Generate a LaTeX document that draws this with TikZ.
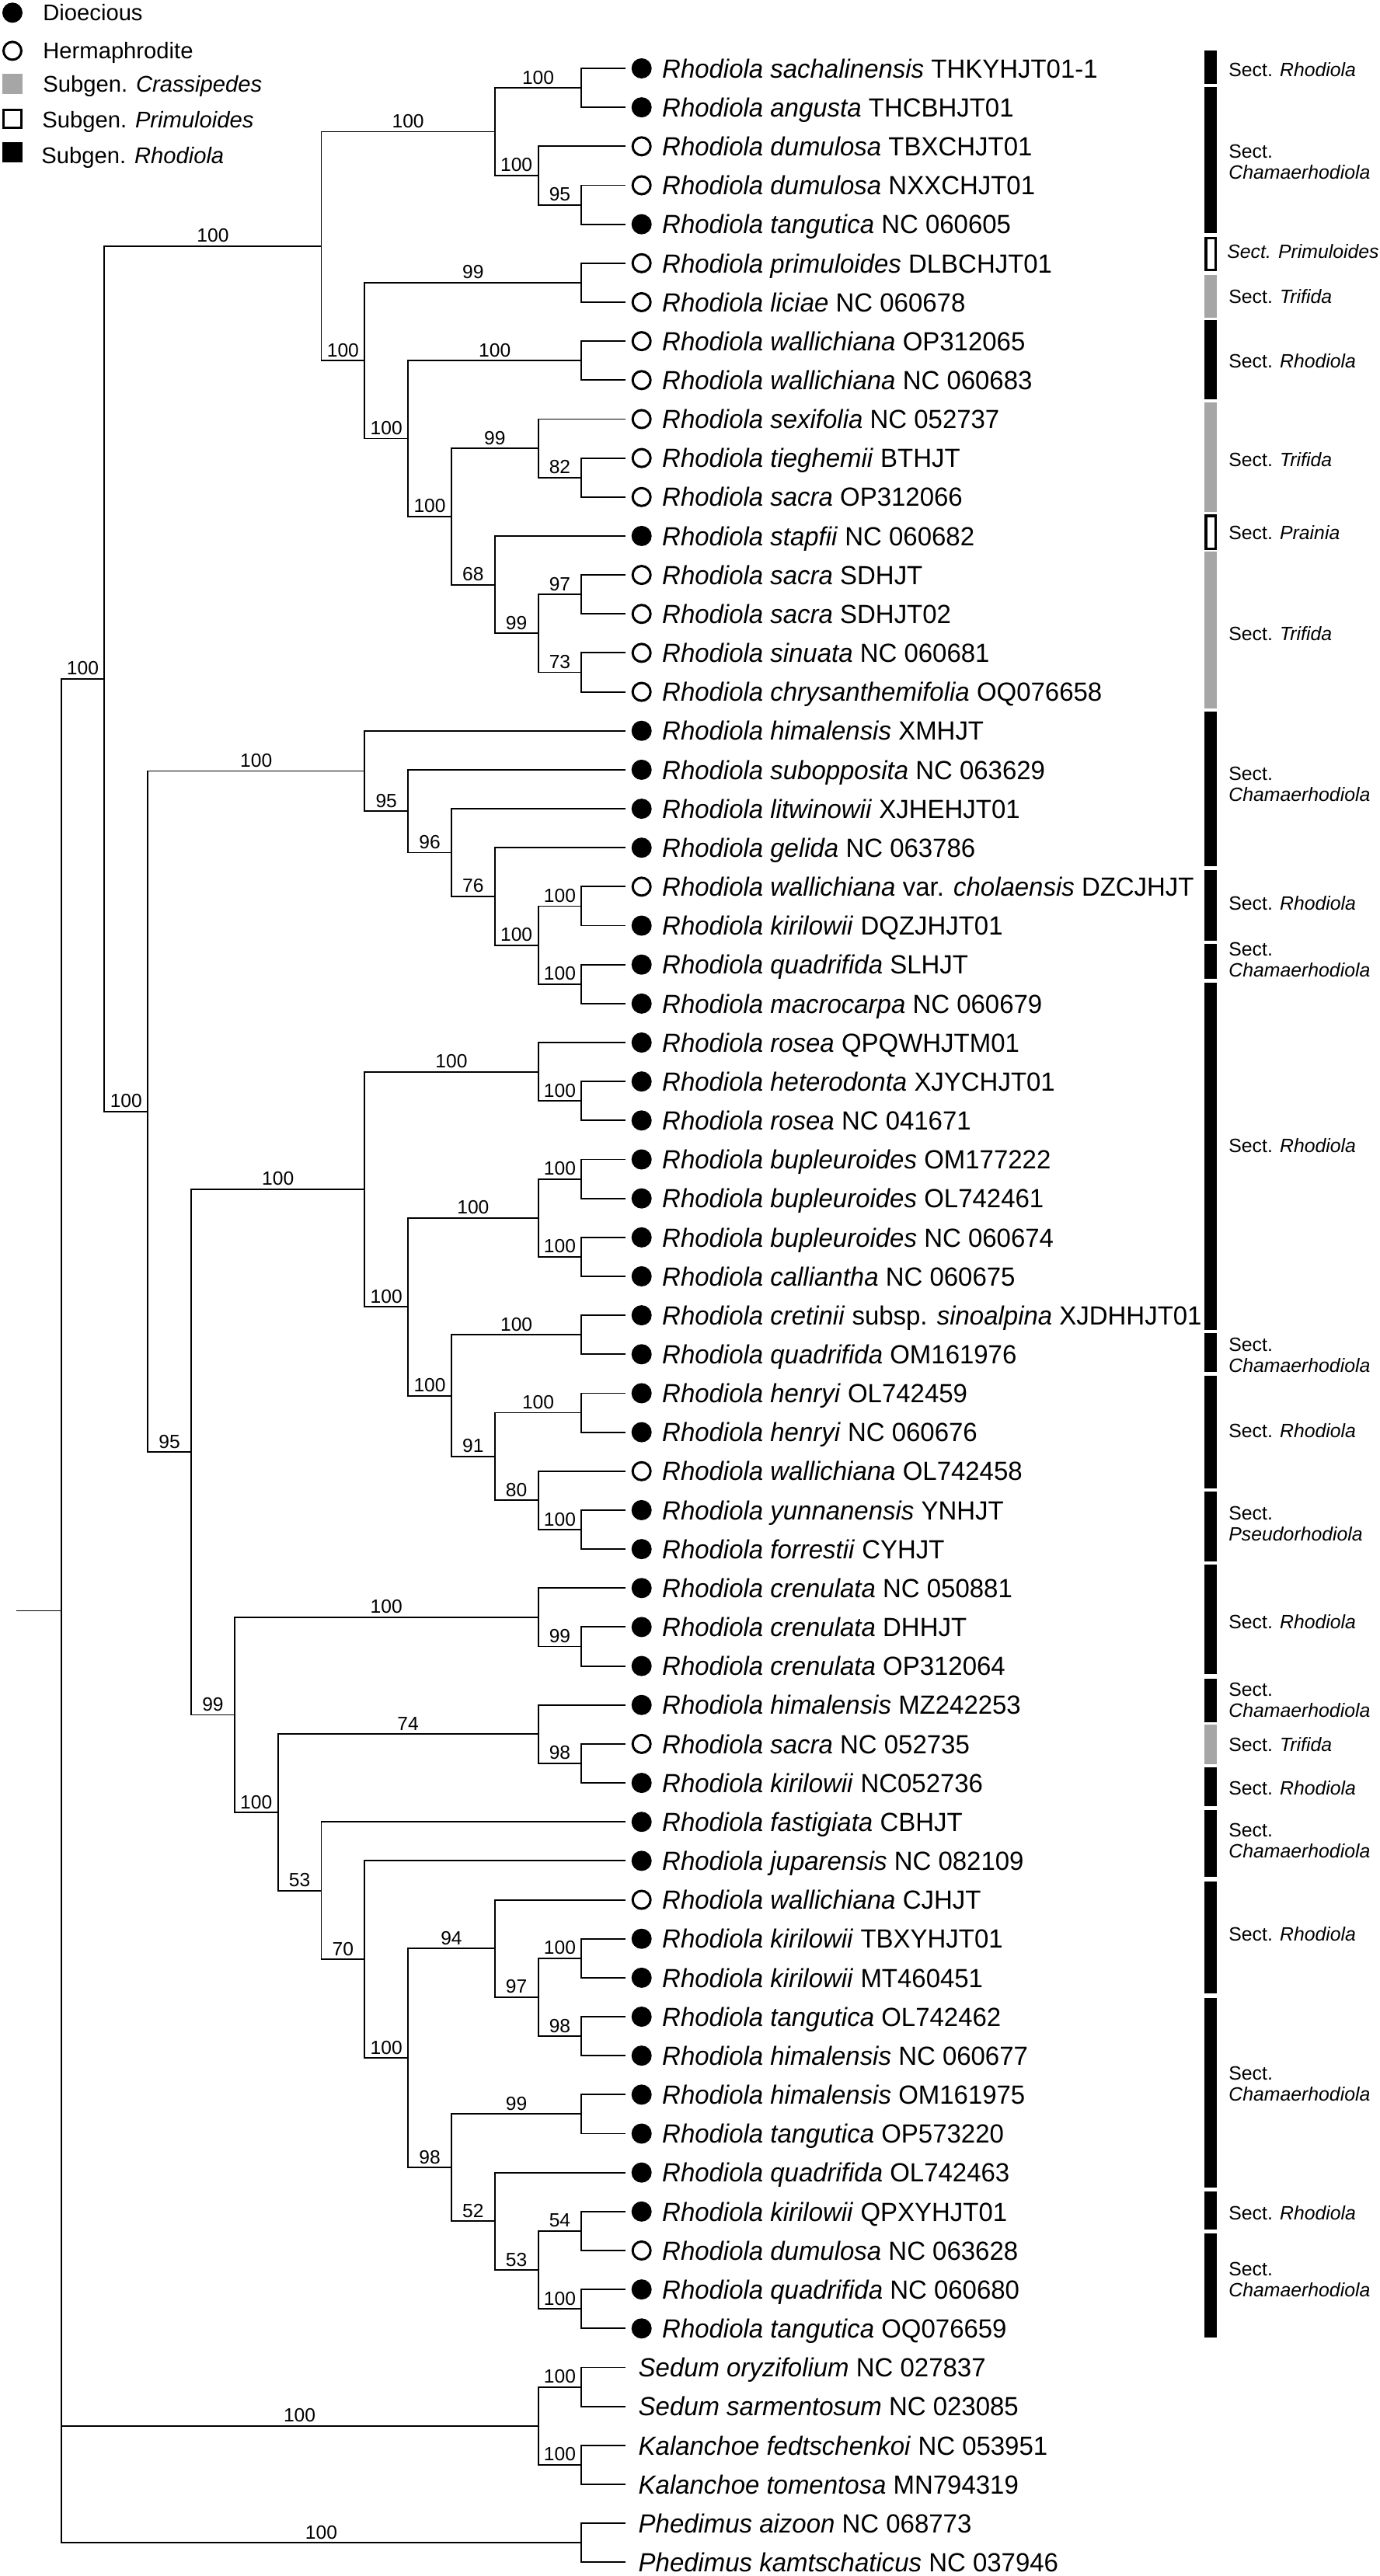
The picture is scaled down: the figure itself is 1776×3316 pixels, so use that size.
\documentclass[tikz,border=0pt]{standalone}
\usepackage{fontspec}
\setmainfont{Liberation Sans}
\newfontfamily\leaffont[FakeStretch=0.975]{Liberation Sans}
\usetikzlibrary{calc}
\definecolor{sgray}{RGB}{166,166,166}
\newcommand\mkclade[4]{%
  \coordinate (#1m) at ($(#3)!0.5!(#4)$);
  \coordinate (#1) at (X#2 |- #1m);
  \draw[br] (#1 |- #3) -- (#1 |- #4);
}
\newcommand\sbr[3]{%
  \coordinate (#2s) at (#1 |- #2);
  \draw[br] (#2s) -- (#2);
  \node[sup] (#2lab) at ($(#2s)!0.5!(#2)$) {#3};
}
\newcommand\tbr[2]{\draw[br] (#1 |- #2) -- (#2);}
\begin{document}
\begin{tikzpicture}[x=0.5pt,y=-0.5pt,
  br/.style={line width=0.95pt, line cap=rect},
  sup/.style={anchor=base, yshift=2.5pt, inner sep=0, font=\fontsize{12.3pt}{15pt}\selectfont},
  leaftext/.style={anchor=base west, inner sep=0, font=\leaffont\fontsize{16.9pt}{20pt}\selectfont},
  dio/.style={circle, fill=black, inner sep=0, minimum size=13pt},
  her/.style={circle, draw=black, line width=1.5pt, fill=white, inner sep=0, minimum size=11.5pt},
  seclab/.style={anchor=base west, inner sep=0, font=\fontsize{12.4pt}{15pt}\selectfont},
  legtext/.style={anchor=base west, inner sep=0, font=\fontsize{14.6pt}{17pt}\selectfont},
  bk/.style={fill=black},
  gy/.style={fill=sgray},
  wh/.style={draw=black, fill=white, line width=1.75pt},
]
\useasboundingbox (0,0) rectangle (1776,3316);
\fill[white] (0,0) rectangle (1776,3316);

% level x positions
\foreach \k in {1,...,14} {
  \pgfmathsetmacro\xx{78.6+55.815*(\k-1)}
  \coordinate (X\k) at (\xx,0);
}

% ---------- leaves (Rhodiola) ----------
\foreach \i/\m/\t in {
1/1/{\textit{Rhodiola sachalinensis} THKYHJT01-1},
2/1/{\textit{Rhodiola angusta} THCBHJT01},
3/0/{\textit{Rhodiola dumulosa} TBXCHJT01},
4/0/{\textit{Rhodiola dumulosa} NXXCHJT01},
5/1/{\textit{Rhodiola tangutica} NC 060605},
6/0/{\textit{Rhodiola primuloides} DLBCHJT01},
7/0/{\textit{Rhodiola liciae} NC 060678},
8/0/{\textit{Rhodiola wallichiana} OP312065},
9/0/{\textit{Rhodiola wallichiana} NC 060683},
10/0/{\textit{Rhodiola sexifolia} NC 052737},
11/0/{\textit{Rhodiola tieghemii} BTHJT},
12/0/{\textit{Rhodiola sacra} OP312066},
13/1/{\textit{Rhodiola stapfii} NC 060682},
14/0/{\textit{Rhodiola sacra} SDHJT},
15/0/{\textit{Rhodiola sacra} SDHJT02},
16/0/{\textit{Rhodiola sinuata} NC 060681},
17/0/{\textit{Rhodiola chrysanthemifolia} OQ076658},
18/1/{\textit{Rhodiola himalensis} XMHJT},
19/1/{\textit{Rhodiola subopposita} NC 063629},
20/1/{\textit{Rhodiola litwinowii} XJHEHJT01},
21/1/{\textit{Rhodiola gelida} NC 063786},
22/0/{\textit{Rhodiola wallichiana} var. \textit{cholaensis} DZCJHJT},
23/1/{\textit{Rhodiola kirilowii} DQZJHJT01},
24/1/{\textit{Rhodiola quadrifida} SLHJT},
25/1/{\textit{Rhodiola macrocarpa} NC 060679},
26/1/{\textit{Rhodiola rosea} QPQWHJTM01},
27/1/{\textit{Rhodiola heterodonta} XJYCHJT01},
28/1/{\textit{Rhodiola rosea} NC 041671},
29/1/{\textit{Rhodiola bupleuroides} OM177222},
30/1/{\textit{Rhodiola bupleuroides} OL742461},
31/1/{\textit{Rhodiola bupleuroides} NC 060674},
32/1/{\textit{Rhodiola calliantha} NC 060675},
33/1/{\textit{Rhodiola cretinii} subsp. \textit{sinoalpina} XJDHHJT01},
34/1/{\textit{Rhodiola quadrifida} OM161976},
35/1/{\textit{Rhodiola henryi} OL742459},
36/1/{\textit{Rhodiola henryi} NC 060676},
37/0/{\textit{Rhodiola wallichiana} OL742458},
38/1/{\textit{Rhodiola yunnanensis} YNHJT},
39/1/{\textit{Rhodiola forrestii} CYHJT},
40/1/{\textit{Rhodiola crenulata} NC 050881},
41/1/{\textit{Rhodiola crenulata} DHHJT},
42/1/{\textit{Rhodiola crenulata} OP312064},
43/1/{\textit{Rhodiola himalensis} MZ242253},
44/0/{\textit{Rhodiola sacra} NC 052735},
45/1/{\textit{Rhodiola kirilowii} NC052736},
46/1/{\textit{Rhodiola fastigiata} CBHJT},
47/1/{\textit{Rhodiola juparensis} NC 082109},
48/0/{\textit{Rhodiola wallichiana} CJHJT},
49/1/{\textit{Rhodiola kirilowii} TBXYHJT01},
50/1/{\textit{Rhodiola kirilowii} MT460451},
51/1/{\textit{Rhodiola tangutica} OL742462},
52/1/{\textit{Rhodiola himalensis} NC 060677},
53/1/{\textit{Rhodiola himalensis} OM161975},
54/1/{\textit{Rhodiola tangutica} OP573220},
55/1/{\textit{Rhodiola quadrifida} OL742463},
56/1/{\textit{Rhodiola kirilowii} QPXYHJT01},
57/0/{\textit{Rhodiola dumulosa} NC 063628},
58/1/{\textit{Rhodiola quadrifida} NC 060680},
59/1/{\textit{Rhodiola tangutica} OQ076659}} {
  \pgfmathsetmacro\ly{88+50.16*(\i-1)}
  \coordinate (l\i) at (804.2,\ly);
  \ifnum\m=1 \node[dio] (c\i) at (825.7,\ly) {};\else \node[her] (c\i) at (825.7,\ly) {};\fi
  \node[leaftext] (t\i) at (851.8,\ly+12.2) {\t};
}
% ---------- leaves (outgroups) ----------
\foreach \i/\t in {
60/{\textit{Sedum oryzifolium} NC 027837},
61/{\textit{Sedum sarmentosum} NC 023085},
62/{\textit{Kalanchoe fedtschenkoi} NC 053951},
63/{\textit{Kalanchoe tomentosa} MN794319},
64/{\textit{Phedimus aizoon} NC 068773},
65/{\textit{Phedimus kamtschaticus} NC 037946}} {
  \pgfmathsetmacro\ly{88+50.16*(\i-1)}
  \coordinate (l\i) at (804.2,\ly);
  \node[leaftext] (t\i) at (821.3,\ly+12.2) {\t};
}

% ---------- tree: upper clade ----------
\mkclade{n12}{13}{l1}{l2}\tbr{n12}{l1}\tbr{n12}{l2}
\mkclade{n45}{13}{l4}{l5}\tbr{n45}{l4}\tbr{n45}{l5}
\mkclade{n3}{12}{l3}{n45}\tbr{n3}{l3}\sbr{n3}{n45}{95}
\mkclade{n15}{11}{n12}{n3}\sbr{n15}{n12}{100}\sbr{n15}{n3}{100}
\mkclade{n67}{13}{l6}{l7}\tbr{n67}{l6}\tbr{n67}{l7}
\mkclade{n89}{13}{l8}{l9}\tbr{n89}{l8}\tbr{n89}{l9}
\mkclade{n1112}{13}{l11}{l12}\tbr{n1112}{l11}\tbr{n1112}{l12}
\mkclade{cF}{12}{l10}{n1112}\tbr{cF}{l10}\sbr{cF}{n1112}{82}
\mkclade{n1415}{13}{l14}{l15}\tbr{n1415}{l14}\tbr{n1415}{l15}
\mkclade{n1617}{13}{l16}{l17}\tbr{n1617}{l16}\tbr{n1617}{l17}
\mkclade{cH}{12}{n1415}{n1617}\sbr{cH}{n1415}{97}\sbr{cH}{n1617}{73}
\mkclade{cG}{11}{l13}{cH}\tbr{cG}{l13}\sbr{cG}{cH}{99}
\mkclade{cE}{10}{cF}{cG}\sbr{cE}{cF}{99}\sbr{cE}{cG}{68}
\mkclade{cD}{9}{n89}{cE}\sbr{cD}{n89}{100}\sbr{cD}{cE}{100}
\mkclade{cC}{8}{n67}{cD}\sbr{cC}{n67}{99}\sbr{cC}{cD}{100}
\mkclade{cA}{7}{n15}{cC}\sbr{cA}{n15}{100}\sbr{cA}{cC}{100}

% ---------- clade I ----------
\mkclade{n2223}{13}{l22}{l23}\tbr{n2223}{l22}\tbr{n2223}{l23}
\mkclade{n2425}{13}{l24}{l25}\tbr{n2425}{l24}\tbr{n2425}{l25}
\mkclade{cO}{12}{n2223}{n2425}\sbr{cO}{n2223}{100}\sbr{cO}{n2425}{100}
\mkclade{cN}{11}{l21}{cO}\tbr{cN}{l21}\sbr{cN}{cO}{100}
\mkclade{cM}{10}{l20}{cN}\tbr{cM}{l20}\sbr{cM}{cN}{76}
\mkclade{cK}{9}{l19}{cM}\tbr{cK}{l19}\sbr{cK}{cM}{96}
\mkclade{cI}{8}{l18}{cK}\tbr{cI}{l18}\sbr{cI}{cK}{95}

% ---------- clade Q ----------
\mkclade{n2728}{13}{l27}{l28}\tbr{n2728}{l27}\tbr{n2728}{l28}
\mkclade{cT}{12}{l26}{n2728}\tbr{cT}{l26}\sbr{cT}{n2728}{100}
\mkclade{n2930}{13}{l29}{l30}\tbr{n2930}{l29}\tbr{n2930}{l30}
\mkclade{n3132}{13}{l31}{l32}\tbr{n3132}{l31}\tbr{n3132}{l32}
\mkclade{cV}{12}{n2930}{n3132}\sbr{cV}{n2930}{100}\sbr{cV}{n3132}{100}
\mkclade{cX}{13}{l33}{l34}\tbr{cX}{l33}\tbr{cX}{l34}
\mkclade{cZ}{13}{l35}{l36}\tbr{cZ}{l35}\tbr{cZ}{l36}
\mkclade{n3839}{13}{l38}{l39}\tbr{n3839}{l38}\tbr{n3839}{l39}
\mkclade{cAA}{12}{l37}{n3839}\tbr{cAA}{l37}\sbr{cAA}{n3839}{100}
\mkclade{cY}{11}{cZ}{cAA}\sbr{cY}{cZ}{100}\sbr{cY}{cAA}{80}
\mkclade{cW}{10}{cX}{cY}\sbr{cW}{cX}{100}\sbr{cW}{cY}{91}
\mkclade{cU}{9}{cV}{cW}\sbr{cU}{cV}{100}\sbr{cU}{cW}{100}
\mkclade{cQ}{8}{cT}{cU}\sbr{cQ}{cT}{100}\sbr{cQ}{cU}{100}

% ---------- clade S ----------
\mkclade{n4142}{13}{l41}{l42}\tbr{n4142}{l41}\tbr{n4142}{l42}
\mkclade{cAB}{12}{l40}{n4142}\tbr{cAB}{l40}\sbr{cAB}{n4142}{99}
\mkclade{n4445}{13}{l44}{l45}\tbr{n4445}{l44}\tbr{n4445}{l45}
\mkclade{cAD}{12}{l43}{n4445}\tbr{cAD}{l43}\sbr{cAD}{n4445}{98}
\mkclade{n4950}{13}{l49}{l50}\tbr{n4950}{l49}\tbr{n4950}{l50}
\mkclade{n5152}{13}{l51}{l52}\tbr{n5152}{l51}\tbr{n5152}{l52}
\mkclade{cAJ}{12}{n4950}{n5152}\sbr{cAJ}{n4950}{100}\sbr{cAJ}{n5152}{98}
\mkclade{cAH}{11}{l48}{cAJ}\tbr{cAH}{l48}\sbr{cAH}{cAJ}{97}
\mkclade{n5354}{13}{l53}{l54}\tbr{n5354}{l53}\tbr{n5354}{l54}
\mkclade{n5657}{13}{l56}{l57}\tbr{n5657}{l56}\tbr{n5657}{l57}
\mkclade{n5859}{13}{l58}{l59}\tbr{n5859}{l58}\tbr{n5859}{l59}
\mkclade{cAL}{12}{n5657}{n5859}\sbr{cAL}{n5657}{54}\sbr{cAL}{n5859}{100}
\mkclade{cAK}{11}{l55}{cAL}\tbr{cAK}{l55}\sbr{cAK}{cAL}{53}
\mkclade{cAI}{10}{n5354}{cAK}\sbr{cAI}{n5354}{99}\sbr{cAI}{cAK}{52}
\mkclade{cAG}{9}{cAH}{cAI}\sbr{cAG}{cAH}{94}\sbr{cAG}{cAI}{98}
\mkclade{cAF}{8}{l47}{cAG}\tbr{cAF}{l47}\sbr{cAF}{cAG}{100}
\mkclade{cAE}{7}{l46}{cAF}\tbr{cAE}{l46}\sbr{cAE}{cAF}{70}
\mkclade{cAC}{6}{cAD}{cAE}\sbr{cAC}{cAD}{74}\sbr{cAC}{cAE}{53}
\mkclade{cS}{5}{cAB}{cAC}\sbr{cS}{cAB}{100}\sbr{cS}{cAC}{100}
\mkclade{cJ}{4}{cQ}{cS}\sbr{cJ}{cQ}{100}\sbr{cJ}{cS}{99}
\mkclade{cB}{3}{cI}{cJ}\sbr{cB}{cI}{100}\sbr{cB}{cJ}{95}
\mkclade{cR}{2}{cA}{cB}\sbr{cR}{cA}{100}\sbr{cR}{cB}{100}

% ---------- outgroups and root ----------
\mkclade{n6061}{13}{l60}{l61}\tbr{n6061}{l60}\tbr{n6061}{l61}
\mkclade{n6263}{13}{l62}{l63}\tbr{n6263}{l62}\tbr{n6263}{l63}
\mkclade{cSK}{12}{n6061}{n6263}\sbr{cSK}{n6061}{100}\sbr{cSK}{n6263}{100}
\mkclade{cP}{13}{l64}{l65}\tbr{cP}{l64}\tbr{cP}{l65}
\mkclade{root}{1}{cR}{cP}\sbr{root}{cR}{100}\sbr{root}{cSK}{100}\sbr{root}{cP}{100}
\coordinate (stub) at (22.4,0);
\draw[br] (stub |- root) -- (root);

% ---------- legend ----------
\node[dio] (lgD) at (16,16.3) {};
\node[legtext] (lgDt) at (55,26.8) {Dioecious};
\node[her] (lgH) at (16,65.4) {};
\node[legtext] (lgHt) at (55,75.9) {Hermaphrodite};
\node[rectangle, fill=sgray, inner sep=0, minimum size=13pt] (lgC) at (16,108) {};
\node[legtext] (lgCt) at (55,118.3) {Subgen. \textit{Crassipedes}};
\node[rectangle, draw=black, line width=1.5pt, fill=white, inner sep=0, minimum size=11.5pt] (lgP) at (16,153.4) {};
\node[legtext] (lgPt) at (54,164.3) {Subgen. \textit{Primuloides}};
\node[rectangle, fill=black, inner sep=0, minimum size=13pt] (lgR) at (16,195.6) {};
\node[legtext] (lgRt) at (53,210.6) {Subgen. \textit{Rhodiola}};

% ---------- section bars ----------
\foreach \ya/\yb/\c/\tx in {
64.7/108.0/89.3/{Sect. \textit{Rhodiola}},
411.6/514.3/464.3/{Sect. \textit{Rhodiola}},
1119.8/1211.3/1162.2/{Sect. \textit{Rhodiola}},
1264.9/1712/1474/{Sect. \textit{Rhodiola}},
1770.9/1916/1841.4/{Sect. \textit{Rhodiola}},
2014.4/2155.4/2087/{Sect. \textit{Rhodiola}},
2274.6/2325/2301.4/{Sect. \textit{Rhodiola}},
2422/2565.7/2489/{Sect. \textit{Rhodiola}},
2821/2869.8/2848.2/{Sect. \textit{Rhodiola}}} {
  \path[bk] (1550,\ya) rectangle (1566,\yb);
  \node[seclab] at (1581,\c+9) {\tx};
}
\foreach \ya/\yb/\c/\tx in {
111.6/300.0/194.2/Chamaerhodiola,
915.8/1115.4/995.7/Chamaerhodiola,
1214.9/1260.4/1221.6/Chamaerhodiola,
1716/1766.4/1730.7/Chamaerhodiola,
1920.4/2009.7/1947.2/Pseudorhodiola,
2160.8/2216.6/2174.2/Chamaerhodiola,
2330.4/2416/2355/Chamaerhodiola,
2571.5/2815.5/2668/Chamaerhodiola,
2875/3008.6/2920.2/Chamaerhodiola} {
  \path[bk] (1550,\ya) rectangle (1566,\yb);
  \node[seclab] at (1581,\c+9) {Sect.};
  \node[seclab] at (1581,\c+36) {\textit{\tx}};
}
\foreach \ya/\yb/\c in {354.0/408.5/381.7, 517.9/659.4/591.5, 710.4/912.2/815.4, 2220/2271/2245.6} {
  \path[gy] (1550,\ya) rectangle (1566,\yb);
  \node[seclab] at (1581,\c+9) {Sect. \textit{Trifida}};
}
\path[wh] (1551.75,306.65) rectangle (1564.25,347.35);
\node[seclab] (secPr) at (1579,332.7) {\textit{Sect. Primuloides}};
\path[wh] (1551.75,663.95) rectangle (1564.25,706.45);
\node[seclab] (secPa) at (1581,694.9) {Sect. \textit{Prainia}};
\end{tikzpicture}
\end{document}
